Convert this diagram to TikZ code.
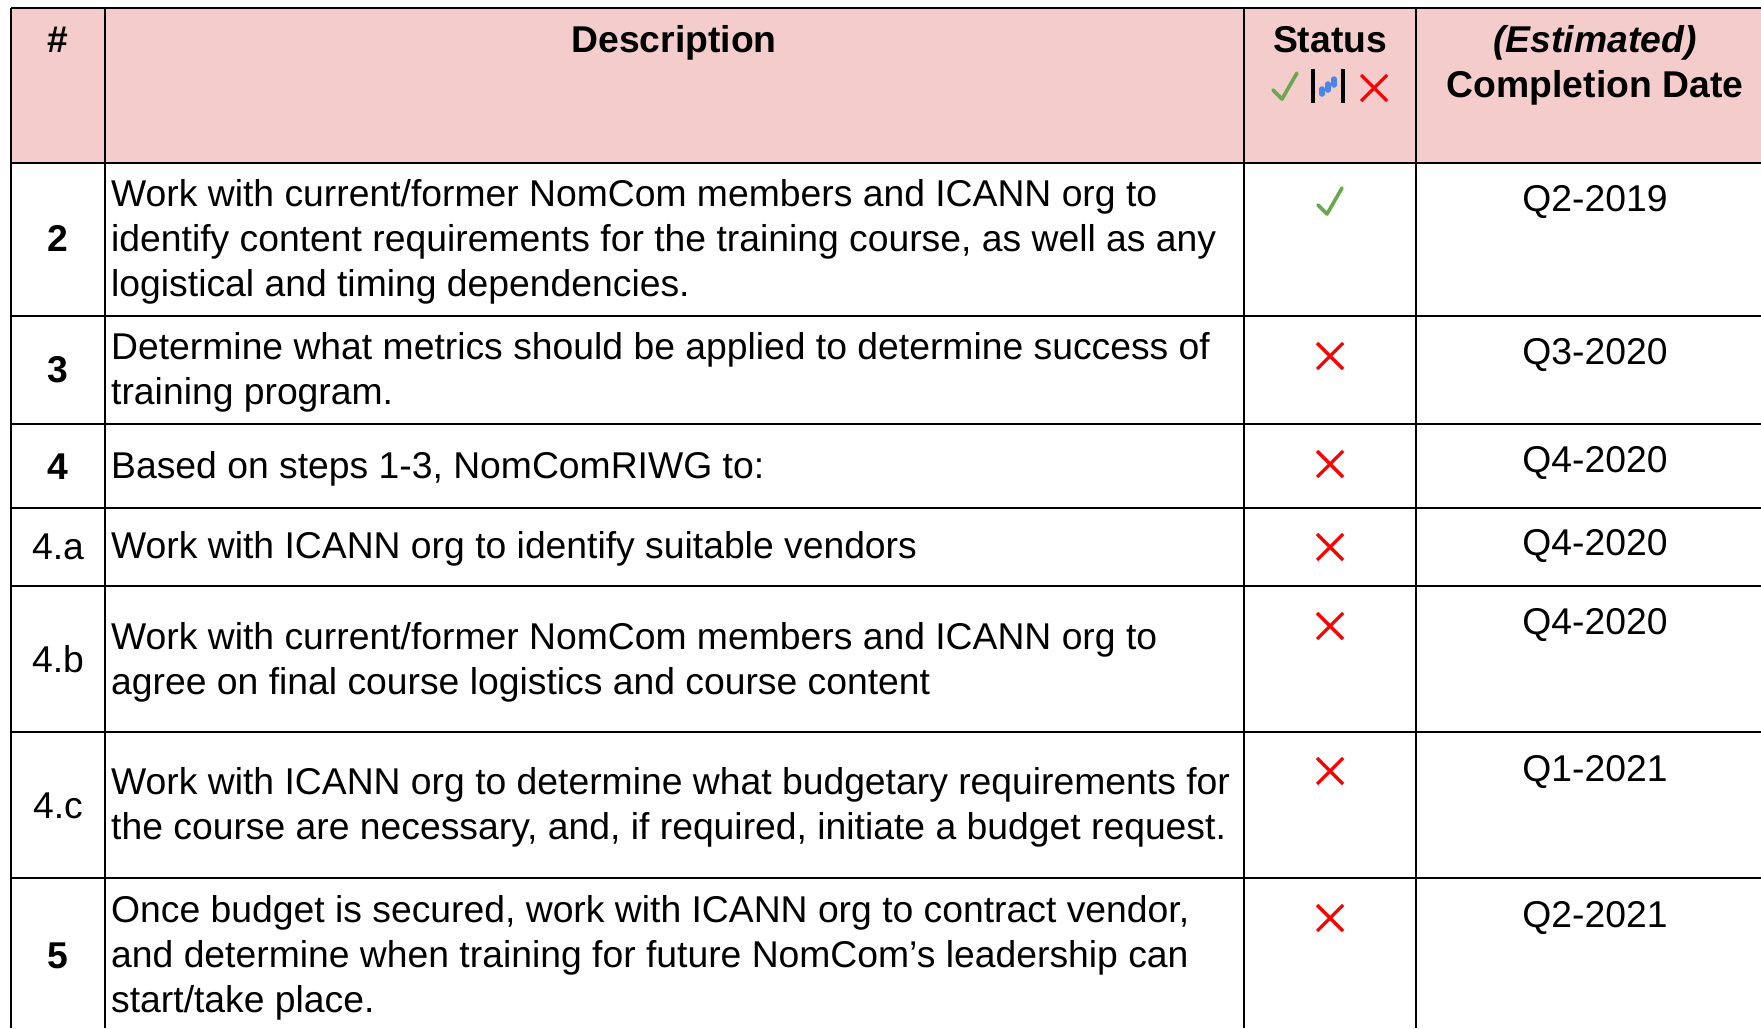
\documentclass[tikz,border=0pt]{standalone}
\usepackage{fontspec}
\setmainfont{Liberation Sans}
\definecolor{headpink}{HTML}{F4CCCC}
\definecolor{okgreen}{HTML}{6AA84F}
\definecolor{nored}{HTML}{FF0000}
\definecolor{barblue}{HTML}{4A86E8}

\tikzset{
  cell/.style={inner sep=0pt, font=\fontsize{37.3}{45}\selectfont},
  head/.style={cell, anchor=base, font=\fontsize{37.3}{45}\selectfont\bfseries},
  num/.style={cell, anchor=base},
  desc/.style={cell, anchor=north west, align=left},
  grid/.style={line width=2.6pt, black},
  okmark/.pic={\draw[okgreen, line width=3.6pt, line cap=round, line join=round] (-12,4) -- (-3,13) -- (12,-13);},
  nomark/.pic={\draw[nored, line width=3.2pt] (-13,-13) -- (13,13) (-13,13) -- (13,-13);}
}

\begin{document}
\begin{tikzpicture}[x=1pt, y=-1pt]
  \useasboundingbox (0,0) rectangle (1761,1028);
  \fill[headpink] (11,8) rectangle (1761,163);

  % header
  \node[head] (hnum) at (58,52) {\#};
  \node[head] (hdesc) at (674,52) {Description};
  \node[head] (hstat) at (1330,52) {Status};
  \node[head] (hest) at (1595,52) {\itshape (Estimated)};
  \node[head] (hcomp) at (1595,97) {Completion Date};
  \pic at (1285,86) {okmark};
  \draw[line width=3.6pt] (1313,69) -- (1313,103) (1343,69) -- (1343,103);
  \draw[barblue, line width=5.5pt, line cap=round] (1322,89) -- (1322,94) (1328,84) -- (1328,90) (1334,79) -- (1334,85);
  \pic at (1374,88) {nomark};

  % numbers
  \node[num, font=\fontsize{37.3}{45}\selectfont\bfseries] (n2) at (58,251) {2};
  \node[num, font=\fontsize{37.3}{45}\selectfont\bfseries] (n3) at (58,382) {3};
  \node[num, font=\fontsize{37.3}{45}\selectfont\bfseries] (n4) at (58,479) {4};
  \node[num] (n4a) at (58,559) {4.a};
  \node[num] (n4b) at (58,672) {4.b};
  \node[num] (n4c) at (58,818) {4.c};
  \node[num, font=\fontsize{37.3}{45}\selectfont\bfseries] (n5) at (58,968) {5};

  % descriptions
  \node[desc] (d2) at (111,179) {Work with current/former NomCom members and ICANN org to\\identify content requirements for the training course, as well as any\\logistical and timing dependencies.};
  \node[desc] (d3) at (111,332) {Determine what metrics should be applied to determine success of\\training program.};
  \node[desc] (d4) at (111,451) {Based on steps 1-3, NomComRIWG to:};
  \node[desc] (d4a) at (111,531) {Work with ICANN org to identify suitable vendors};
  \node[desc] (d4b) at (111,622) {Work with current/former NomCom members and ICANN org to\\agree on final course logistics and course content};
  \node[desc] (d4c) at (111,767) {Work with ICANN org to determine what budgetary requirements for\\the course are necessary, and, if required, initiate a budget request.};
  \node[desc] (d5) at (111,895) {Once budget is secured, work with ICANN org to contract vendor,\\and determine when training for future NomCom’s leadership can\\start/take place.};

  % status and dates
  \pic at (1330,201) {okmark};
  \foreach \y in {356,464,547,626,771,918}
    \pic at (1330,\y) {nomark};
  \foreach \i/\y/\q in {2/211/Q2-2019, 3/364/Q3-2020, 4/472/Q4-2020, 4a/555/Q4-2020, 4b/634/Q4-2020, 4c/781/Q1-2021, 5/927/Q2-2021}
    \node[num] (q\i) at (1595,\y) {\q};

  % grid
  \foreach \y in {8,163,316,424,508,586,732,878}
    \draw[grid] (11,\y) -- (1761,\y);
  \foreach \x in {11,105,1244,1416}
    \draw[grid] (\x,8) -- (\x,1028);
\end{tikzpicture}
\end{document}
